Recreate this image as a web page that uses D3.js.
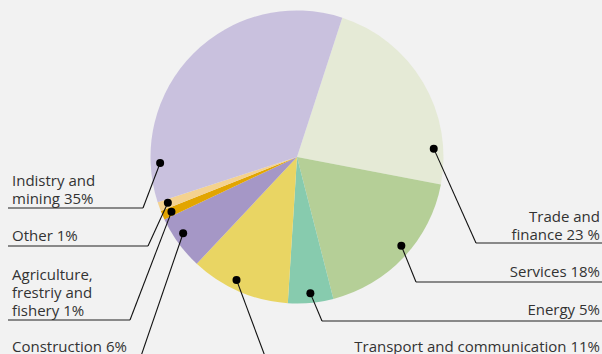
<!DOCTYPE html>
<html>
<head>
<meta charset="utf-8">
<script src="https://cdn.jsdelivr.net/npm/d3@7"></script>
<style>
  html, body { margin: 0; padding: 0; background: #f2f2f2; }
  svg { display: block; }
  text { font-family: "Open Sans", sans-serif; font-size: 15px; fill: #333; }
</style>
</head>
<body>
<svg id="chart" width="602" height="354"></svg>
<script>
// Sectors in clockwise order, starting just right of twelve o'clock
const sectors = ["Trade and finance", "Services", "Energy", "Transport and communication",
                 "Construction", "Agriculture, frestriy and fishery", "Other", "Indistry and mining"];
const shares = [23, 18, 5, 11, 6, 1, 1, 35];
const colors = ["#e5ead6", "#b5cf97", "#87cbae", "#e9d563", "#a597c6", "#e2a500", "#f4d28f", "#c9c1de"];
const labelLines = [
  ["Trade and", "finance 23 %"],
  ["Services 18%"],
  ["Energy 5%"],
  ["Transport and communication 11%"],
  ["Construction 6%"],
  ["Agriculture,", "frestriy and", "fishery 1%"],
  ["Other 1%"],
  ["Indistry and", "mining 35%"]
];

// Callout layout: dot angle (deg, clockwise from top), elbow point, last baseline
const callouts = [
  { side: "right", angle: 86.5,  ex: 476, ey: 243, base: 240 },
  { side: "right", angle: 130.4, ex: 416, ey: 282, base: 277 },
  { side: "right", angle: 174.4, ex: 322, ey: 321, base: 315 },
  { side: "right", angle: 206.2, ex: 266, ey: 359, base: 352 },
  { side: "left",  angle: 236.2, ex: 140, ey: 359, base: 352 },
  { side: "left",  angle: 246.4, ex: 130, ey: 320, base: 315.5 },
  { side: "left",  angle: 250.5, ex: 148, ey: 246, base: 241 },
  { side: "left",  angle: 267.5, ex: 143, ey: 208, base: 203.5 }
];

const W = 602, H = 354;
const cx = 297, cy = 157, R = 146.5, dotR = 137;
const start = 18 * Math.PI / 180;

const svg = d3.select("#chart");
const g = svg.append("g").attr("transform", `translate(${cx},${cy})`);

const pie = d3.pie().sort(null).startAngle(start).endAngle(start + 2 * Math.PI);
const arc = d3.arc().innerRadius(0).outerRadius(R);

g.selectAll("path.slice")
  .data(pie(shares))
  .join("path")
  .attr("class", "slice")
  .attr("d", arc)
  .attr("fill", (d, i) => colors[i]);

const polar = (deg, r) => {
  const a = deg * Math.PI / 180;
  return [cx + r * Math.sin(a), cy - r * Math.cos(a)];
};

const lineH = 18;
sectors.forEach((name, i) => {
  const c = callouts[i];
  const [dx, dy] = polar(c.angle, dotR);
  const edgeX = c.side === "right" ? W : 8;

  // horizontal rule under the label
  svg.append("line")
    .attr("x1", c.ex).attr("y1", c.ey).attr("x2", edgeX).attr("y2", c.ey)
    .attr("stroke", "#666").attr("stroke-width", 1.6);
  // leader from the slice to the rule
  svg.append("line")
    .attr("x1", dx).attr("y1", dy).attr("x2", c.ex).attr("y2", c.ey)
    .attr("stroke", "#111").attr("stroke-width", 1.1);
  svg.append("circle")
    .attr("cx", dx).attr("cy", dy).attr("r", 4).attr("fill", "#000");

  const lines = labelLines[i];
  const t = svg.append("text")
    .attr("text-anchor", c.side === "right" ? "end" : "start");
  lines.forEach((ln, k) => {
    t.append("tspan")
      .attr("x", c.side === "right" ? 600 : 12)
      .attr("y", c.base - (lines.length - 1 - k) * lineH)
      .text(ln);
  });
});
</script>
</body>
</html>
